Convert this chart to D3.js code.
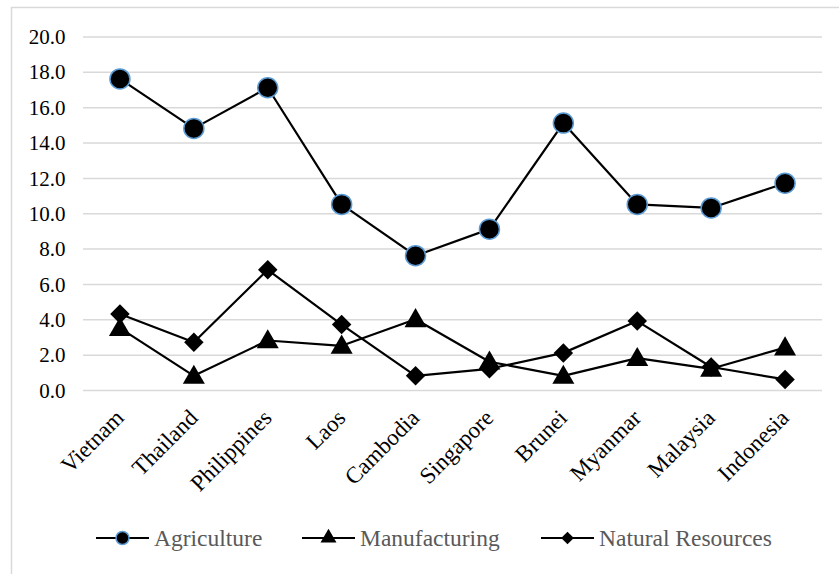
<!DOCTYPE html>
<html>
<head>
<meta charset="utf-8">
<script src="https://cdn.jsdelivr.net/npm/d3@7"></script>
</head>
<body style="margin:0">
<svg id="chart" width="839" height="574" font-family="Liberation Serif" style="display:block"></svg>
<script>
const categories = ["Vietnam", "Thailand", "Philippines", "Laos", "Cambodia", "Singapore", "Brunei", "Myanmar", "Malaysia", "Indonesia"];
const agriculture = [17.6, 14.8, 17.1, 10.5, 7.6, 9.1, 15.1, 10.5, 10.3, 11.7];
const manufacturing = [3.5, 0.8, 2.8, 2.5, 4.0, 1.6, 0.8, 1.8, 1.2, 2.4];
const naturalResources = [4.3, 2.7, 6.8, 3.7, 0.8, 1.2, 2.1, 3.9, 1.3, 0.6];
const yTicks = [0, 2, 4, 6, 8, 10, 12, 14, 16, 18, 20];
const seriesNames = ["Agriculture", "Manufacturing", "Natural Resources"];

const W = 839, H = 574;
const margin = { left: 83, right: 17, top: 36.5, bottom: 184 };
const FONT = "'Liberation Serif'";

const svg = d3.select("#chart");

// chart area border
svg.append("rect")
  .attr("x", 11.5).attr("y", 7.5)
  .attr("width", W + 20).attr("height", H + 20)
  .attr("fill", "#fff").attr("stroke", "#d9d9d9").attr("stroke-width", 1.5);

const x = d3.scaleBand().domain(categories).range([margin.left, W - margin.right]);
const y = d3.scaleLinear().domain([0, 20]).range([H - margin.bottom, margin.top]);

// gridlines
const grid = svg.append("g")
  .attr("transform", `translate(${margin.left},0)`)
  .call(d3.axisLeft(y).tickValues(yTicks).tickSize(-(W - margin.right - margin.left)).tickFormat(""));
grid.select(".domain").remove();
grid.selectAll("line").attr("stroke", "#d9d9d9").attr("stroke-width", 1.5);

// y axis labels
const yAxis = svg.append("g")
  .attr("transform", `translate(65.5,0)`)
  .call(d3.axisLeft(y).tickValues(yTicks).tickSize(0).tickPadding(0).tickFormat(d3.format(".1f")));
yAxis.select(".domain").remove();
yAxis.attr("font-family", null).attr("font-size", null);
yAxis.selectAll("text")
  .style("font-family", FONT)
  .attr("font-size", 21).attr("fill", "#000").attr("dy", "0.34em");

// x axis labels
const xAxis = svg.append("g")
  .attr("transform", `translate(0,${H - margin.bottom})`)
  .call(d3.axisBottom(x).tickSize(0).tickPadding(0));
xAxis.select(".domain").remove();
xAxis.attr("font-family", null).attr("font-size", null);
xAxis.selectAll("text")
  .style("font-family", FONT)
  .attr("font-size", 23).attr("fill", "#000")
  .attr("text-anchor", "end")
  .attr("y", 0)
  .attr("dy", "0.32em")
  .attr("transform", "translate(0,24) rotate(-45)");

// series
const cx = d => x(d) + x.bandwidth() / 2;
const line = d3.line().x((d, i) => cx(categories[i])).y(d => y(d));

const data = [agriculture, manufacturing, naturalResources];
const g = svg.append("g");
data.forEach(vals => {
  g.append("path").datum(vals)
    .attr("d", line).attr("fill", "none")
    .attr("stroke", "#000").attr("stroke-width", 2.2).attr("stroke-linejoin", "round");
});

const triangle = d3.symbol().type(d3.symbolTriangle).size(210);
const diamond = d3.symbol().type(d3.symbolSquare).size(190);

g.selectAll(".nr").data(naturalResources).join("path")
  .attr("d", diamond)
  .attr("transform", (d, i) => `translate(${cx(categories[i])},${y(d)}) rotate(45)`)
  .attr("fill", "#000");

g.selectAll(".mf").data(manufacturing).join("path")
  .attr("d", triangle)
  .attr("transform", (d, i) => `translate(${cx(categories[i])},${y(d) + 1.5})`)
  .attr("fill", "#000");

g.selectAll(".ag").data(agriculture).join("circle")
  .attr("cx", (d, i) => cx(categories[i])).attr("cy", d => y(d))
  .attr("r", 10).attr("fill", "#000").attr("stroke", "#5b9bd5").attr("stroke-width", 1.5);

// legend
const legendY = 538;
const legendItems = [
  { name: seriesNames[0], x0: 96, kind: "circle" },
  { name: seriesNames[1], x0: 302, kind: "triangle" },
  { name: seriesNames[2], x0: 541, kind: "diamond" }
];
const lg = svg.append("g");
legendItems.forEach(it => {
  lg.append("line").attr("x1", it.x0).attr("x2", it.x0 + 53)
    .attr("y1", legendY).attr("y2", legendY)
    .attr("stroke", "#000").attr("stroke-width", 2.2);
  const mx = it.x0 + 26.5;
  if (it.kind === "circle") {
    lg.append("circle").attr("cx", mx).attr("cy", legendY).attr("r", 6.5)
      .attr("fill", "#000").attr("stroke", "#5b9bd5").attr("stroke-width", 1.5);
  } else if (it.kind === "triangle") {
    lg.append("path").attr("d", d3.symbol().type(d3.symbolTriangle).size(110))
      .attr("transform", `translate(${mx},${legendY})`).attr("fill", "#000");
  } else {
    lg.append("path").attr("d", d3.symbol().type(d3.symbolSquare).size(80))
      .attr("transform", `translate(${mx},${legendY}) rotate(45)`).attr("fill", "#000");
  }
  lg.append("text").attr("x", it.x0 + 58).attr("y", legendY).attr("dy", "0.33em")
    .style("font-family", FONT).attr("font-size", 23.5)
    .attr("fill", "#595959").text(it.name);
});
</script>
</body>
</html>
